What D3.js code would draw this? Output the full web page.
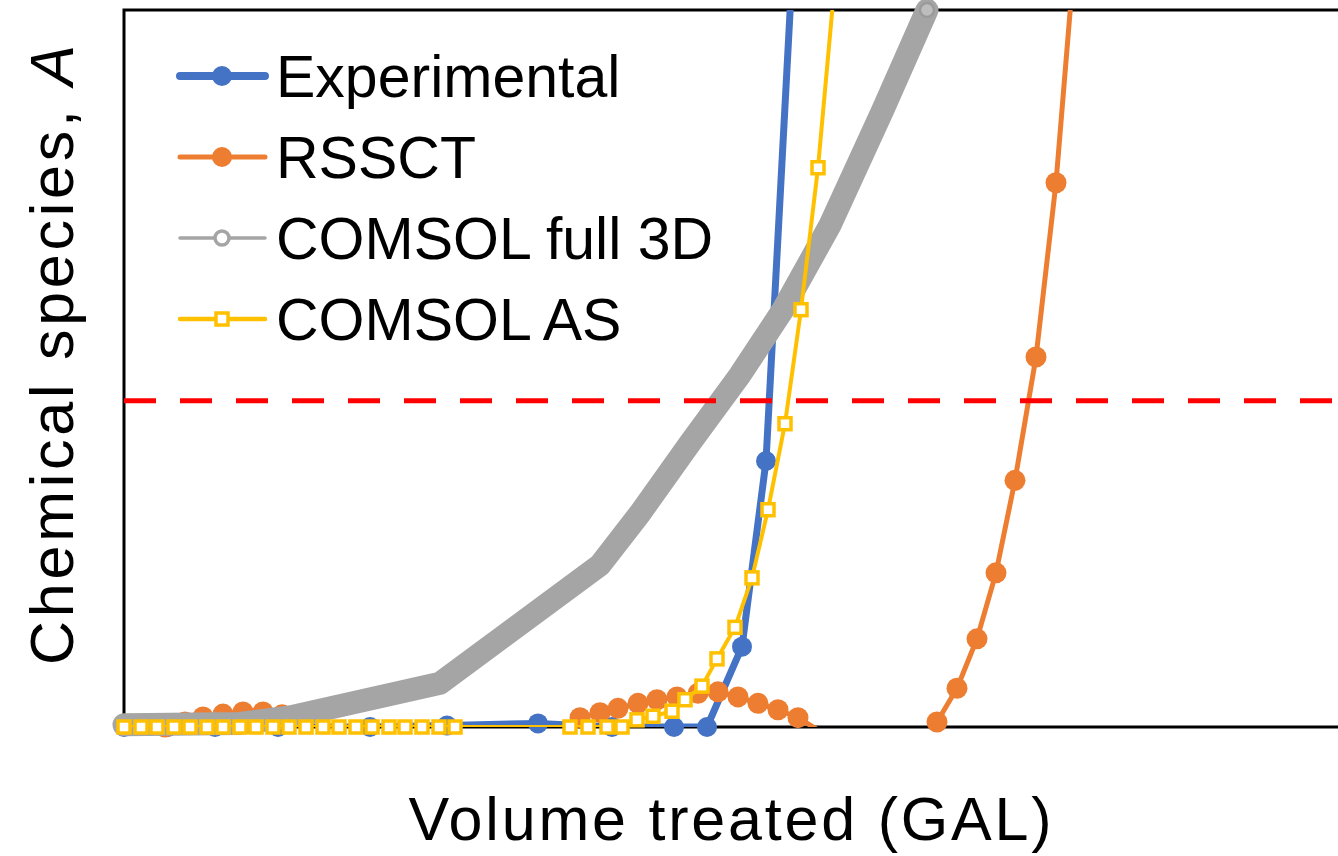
<!DOCTYPE html>
<html>
<head>
<meta charset="utf-8">
<script src="https://cdn.jsdelivr.net/npm/d3@7"></script>
<style>
  html, body { margin: 0; padding: 0; background: #fff; }
  svg { display: block; font-family: "Liberation Sans", Arial, sans-serif; }
</style>
</head>
<body>
<div id="chart"></div>
<script>
// Breakthrough curves: values (x in gallons, y as fraction of axis max)

const expX = [0, 440, 910, 1540, 2460, 3230, 4140, 4880, 5500, 5830, 6180, 6420, 6720];
const expY = [0, 0, 0, 0, 0, 0.002, 0.005, 0, 0, 0, 0.112, 0.371, 1.153];

const rssctX = [410, 610, 790, 990, 1190, 1390, 1580, 1780, 4360, 4560, 4760, 4940, 5140, 5330,
  5530, 5740, 5940, 6140, 6340, 6540, 6740, 6960, 7930, 8130, 8330, 8530, 8720, 8910, 9120, 9320, 9520];
const rssctY = [0, 0.007, 0.014, 0.018, 0.021, 0.021, 0.017, -0.008, -0.008, 0.013, 0.020, 0.026, 0.033, 0.038,
  0.042, 0.047, 0.049, 0.042, 0.033, 0.024, 0.013, -0.006, -0.025, 0.007, 0.054, 0.123, 0.215, 0.344, 0.516, 0.759, 1.098];

const fullX = [0, 1160, 1660, 3160, 4760, 5160, 5660, 6160, 6590, 7060, 7590, 8030];
const fullY = [0.003, 0.005, 0.014, 0.061, 0.226, 0.298, 0.396, 0.491, 0.582, 0.700, 0.861, 1.0];

const asX = [0, 170, 330, 500, 660, 830, 990, 1160, 1320, 1490, 1650, 1820, 1990, 2150, 2320, 2480,
  2650, 2810, 2980, 3150, 3310, 4460, 4640, 4830, 4980, 5130, 5290, 5480, 5610, 5780, 5930,
  6110, 6280, 6440, 6610, 6770, 6940, 7110];
const asY = [0, 0, 0, 0, 0, 0, 0, 0, 0, 0, 0, 0, 0, 0, 0, 0,
  0, 0, 0, 0, 0, 0, 0, 0, 0, 0.010, 0.015, 0.022, 0.038, 0.057, 0.095,
  0.139, 0.208, 0.303, 0.423, 0.582, 0.780, 1.042];

const threshold = 0.455;

const seriesNames = ["Experimental", "RSSCT", "COMSOL full 3D", "COMSOL AS"];
const COLORS = ["#4472C4", "#ED7D31", "#A5A5A5", "#FFC000"];

const W = 1338, H = 856;
const margin = { left: 124, top: 10, bottom: 727 };

const svg = d3.select("#chart").append("svg")
  .attr("width", W).attr("height", H)
  .attr("viewBox", `0 0 ${W} ${H}`);

svg.append("rect").attr("width", W).attr("height", H).attr("fill", "#fff");

const x = d3.scaleLinear().domain([0, 12200]).range([margin.left, 1344]);
const y = d3.scaleLinear().domain([0, 1]).range([margin.bottom, margin.top]);

svg.append("defs").append("clipPath").attr("id", "plot")
  .append("rect")
  .attr("x", x(0)).attr("y", y(1))
  .attr("width", x(12200) - x(0)).attr("height", y(0) - y(1));

// plot frame (right side falls outside the picture)
svg.append("rect")
  .attr("x", x(0)).attr("y", y(1))
  .attr("width", x(12200) - x(0) + 10).attr("height", y(0) - y(1))
  .attr("fill", "none").attr("stroke", "#000").attr("stroke-width", 3);

const zip = (xs, ys) => xs.map((v, i) => ({ x: v, y: ys[i] }));
const inRange = d => d.y >= 0 && d.y <= 1;
const line = d3.line().x(d => x(d.x)).y(d => y(d.y));

const exp = zip(expX, expY);
const rssct = zip(rssctX, rssctY);
const full = zip(fullX, fullY);
const as = zip(asX, asY);

// Experimental
svg.append("path").datum(exp)
  .attr("clip-path", "url(#plot)")
  .attr("d", line).attr("fill", "none")
  .attr("stroke", COLORS[0]).attr("stroke-width", 7).attr("stroke-linejoin", "round");
svg.selectAll(".exp").data(exp.filter(inRange)).join("circle")
  .attr("cx", d => x(d.x)).attr("cy", d => y(d.y)).attr("r", 10)
  .attr("fill", COLORS[0]);

// RSSCT
svg.append("path").datum(rssct)
  .attr("clip-path", "url(#plot)")
  .attr("d", line).attr("fill", "none")
  .attr("stroke", COLORS[1]).attr("stroke-width", 5).attr("stroke-linejoin", "round");
svg.selectAll(".rssct").data(rssct.filter(inRange)).join("circle")
  .attr("cx", d => x(d.x)).attr("cy", d => y(d.y)).attr("r", 10.5)
  .attr("fill", COLORS[1]);

// COMSOL full 3D: markers are so dense they form a solid band
svg.append("path").datum(full)
  .attr("d", line)
  .attr("fill", "none")
  .attr("stroke", COLORS[2]).attr("stroke-width", 23)
  .attr("stroke-linejoin", "round").attr("stroke-linecap", "round");
svg.append("circle")
  .attr("cx", x(full[full.length - 1].x)).attr("cy", y(full[full.length - 1].y)).attr("r", 7)
  .attr("fill", "#bdbdbd").attr("stroke", "#9a9a9a").attr("stroke-width", 2.5);

// COMSOL AS
svg.append("path").datum(as)
  .attr("clip-path", "url(#plot)")
  .attr("d", line).attr("fill", "none")
  .attr("stroke", COLORS[3]).attr("stroke-width", 4).attr("stroke-linejoin", "round");
svg.selectAll(".as").data(as.filter(inRange)).join("rect")
  .attr("x", d => x(d.x) - 6).attr("y", d => y(d.y) - 6)
  .attr("width", 12).attr("height", 12)
  .attr("fill", "#fff").attr("stroke", COLORS[3]).attr("stroke-width", 3.5);

// threshold
svg.append("line")
  .attr("x1", x(0)).attr("x2", W)
  .attr("y1", y(threshold)).attr("y2", y(threshold))
  .attr("stroke", "#FF0000").attr("stroke-width", 5)
  .attr("stroke-dasharray", "32,24");

// legend
const legend = svg.append("g");
seriesNames.forEach((name, i) => {
  const cy = 76 + i * 81;
  const row = legend.append("g");
  row.append("line")
    .attr("x1", 180).attr("x2", 265).attr("y1", cy).attr("y2", cy)
    .attr("stroke", COLORS[i])
    .attr("stroke-width", [8, 5, 3.5, 4.5][i]).attr("stroke-linecap", "round");
  if (i < 2) {
    row.append("circle").attr("cx", 222).attr("cy", cy).attr("r", 10).attr("fill", COLORS[i]);
  } else if (i === 2) {
    row.append("circle").attr("cx", 222).attr("cy", cy).attr("r", 7)
      .attr("fill", "#fff").attr("stroke", COLORS[i]).attr("stroke-width", 3.5);
  } else {
    row.append("rect").attr("x", 216).attr("y", cy - 6).attr("width", 12).attr("height", 12)
      .attr("fill", "#fff").attr("stroke", COLORS[i]).attr("stroke-width", 3.5);
  }
  row.append("text")
    .attr("x", 276).attr("y", cy + 21)
    .attr("font-size", 59).attr("fill", "#000")
    .text(name);
});

// axis titles
svg.append("text")
  .attr("x", 730).attr("y", 840)
  .attr("text-anchor", "middle").attr("font-size", 61)
  .attr("textLength", 643).attr("lengthAdjust", "spacing")
  .text("Volume treated (GAL)");

const yt = svg.append("text")
  .attr("transform", "translate(73,355) rotate(-90)")
  .attr("text-anchor", "middle").attr("font-size", 61)
  .attr("textLength", 620).attr("lengthAdjust", "spacing");
yt.append("tspan").text("Chemical species, ");
yt.append("tspan").attr("font-style", "italic").text("A");
</script>
</body>
</html>
